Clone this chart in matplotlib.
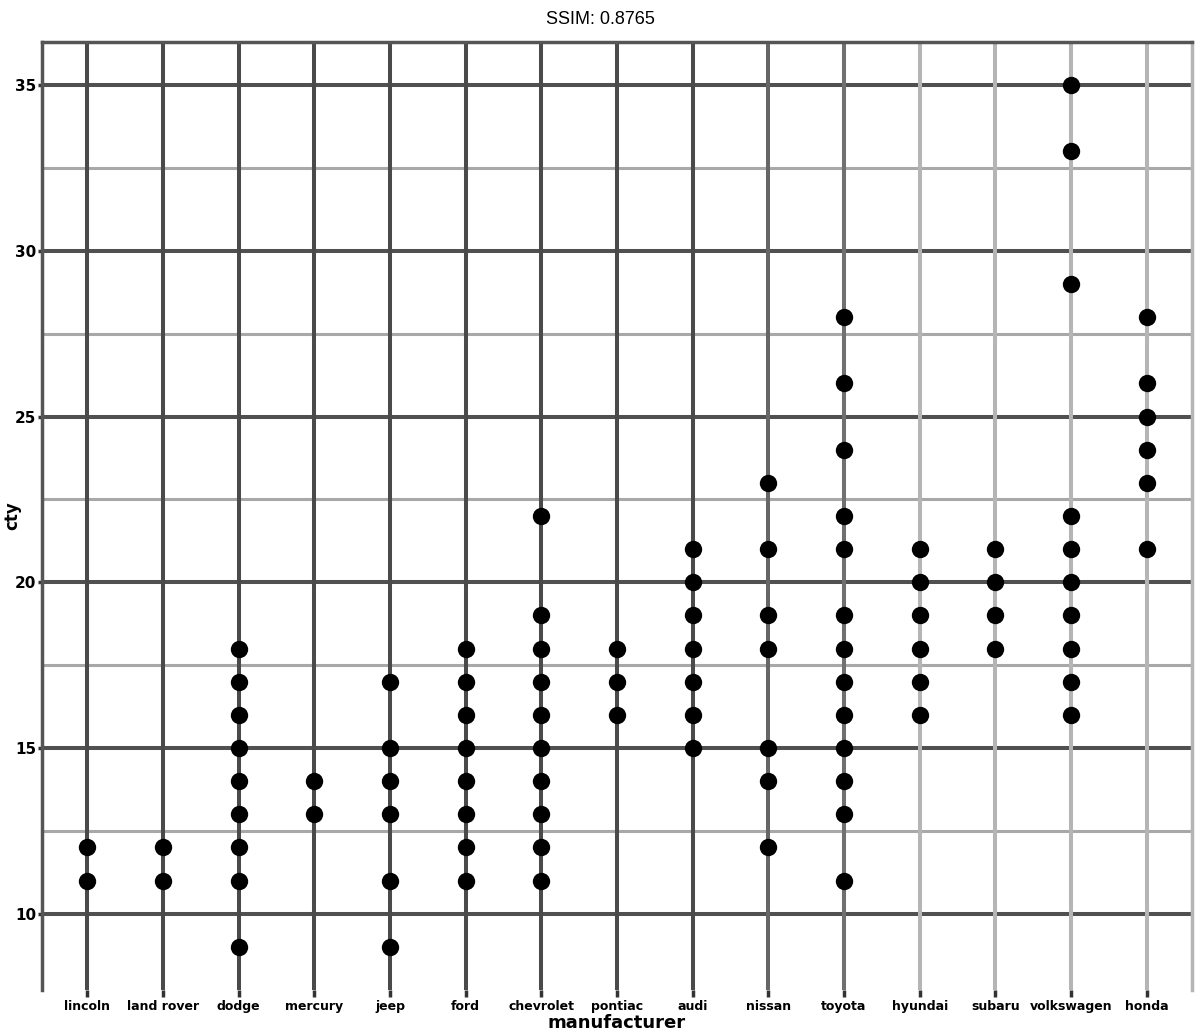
import matplotlib
matplotlib.use("Agg")
import matplotlib.pyplot as plt
from matplotlib.ticker import MultipleLocator

# ---- data (mpg: city mpg by manufacturer, ordered by median) ----
manufacturers = ["lincoln", "land rover", "dodge", "mercury", "jeep", "ford",
                 "chevrolet", "pontiac", "audi", "nissan", "toyota", "hyundai",
                 "subaru", "volkswagen", "honda"]
lincoln = [11, 12]
land_rover = [11, 12]
dodge = [9, 11, 12, 13, 14, 15, 16, 17, 18]
mercury = [13, 14]
jeep = [9, 11, 13, 14, 15, 17]
ford = [11, 12, 13, 14, 15, 16, 17, 18]
chevrolet = [11, 12, 13, 14, 15, 16, 17, 18, 19, 22]
pontiac = [16, 17, 18]
audi = [15, 16, 17, 18, 19, 20, 21]
nissan = [12, 14, 15, 18, 19, 21, 23]
toyota = [11, 13, 14, 15, 16, 17, 18, 19, 21, 22, 24, 26, 28]
hyundai = [16, 17, 18, 19, 20, 21]
subaru = [18, 19, 20, 21]
volkswagen = [16, 17, 18, 19, 20, 21, 22, 29, 33, 35]
honda = [21, 23, 24, 25, 26, 28]
cty_values = [lincoln, land_rover, dodge, mercury, jeep, ford, chevrolet,
              pontiac, audi, nissan, toyota, hyundai, subaru, volkswagen, honda]
y_ticks = [10, 15, 20, 25, 30, 35]

# ---- style ----
vgrid_colors = ["#4a4a4a"] * 9 + ["#666666", "#707070"] + ["#b5b5b5"] * 4

fig = plt.figure(figsize=(12, 10.34), dpi=100)
ax = fig.add_axes([42 / 1200, 1 - 990 / 1034, (1192 - 42) / 1200, (990 - 42) / 1034])
ax.set_facecolor("white")

xpos = list(range(1, len(manufacturers) + 1))
for xp, col in zip(xpos, vgrid_colors):
    ax.axvline(xp, color=col, lw=2.9, zorder=1)

ax.set_xlim(0.4, len(manufacturers) + 0.6)
ax.set_ylim(7.7, 36.3)
ax.set_yticks(y_ticks)
ax.yaxis.set_minor_locator(MultipleLocator(2.5))
ax.grid(False)
ax.yaxis.grid(True, which="major", color="#505050", lw=2.9, zorder=1)
ax.yaxis.grid(True, which="minor", color="#a8a8a8", lw=2.2, zorder=1)
ax.set_axisbelow(True)

for xp, vals in zip(xpos, cty_values):
    ax.plot([xp] * len(vals), vals, "o", color="black", markersize=12.5,
            markeredgewidth=0, zorder=3)

ax.set_xticks(xpos)
ax.set_xticklabels(manufacturers, fontsize=9, fontweight="bold", color="black")
ax.tick_params(axis="y", which="minor", length=0)
ax.tick_params(axis="x", which="major", length=5, width=2.5, color="#333333",
               labelsize=9, pad=2)
ax.tick_params(axis="y", which="major", length=3, width=2.5, color="#333333",
               labelsize=11, pad=1)
for lab in ax.get_yticklabels():
    lab.set_fontweight("bold")

for side in ["top", "bottom", "left", "right"]:
    ax.spines[side].set_color("#555555")
    ax.spines[side].set_linewidth(2.5)
ax.spines["bottom"].set_visible(False)
ax.spines["right"].set_color("#b5b5b5")

ax.set_xlabel("manufacturer", fontsize=13, fontweight="bold", labelpad=1)
ax.set_ylabel("cty", fontsize=12, fontweight="bold")
ax.yaxis.set_label_coords(-0.018, 0.5)

fig.text(0.5, 1 - 20 / 1034, "SSIM: 0.8765", ha="center", va="center",
         fontsize=13, family="Liberation Sans")

fig.savefig("out.png", dpi=100)
